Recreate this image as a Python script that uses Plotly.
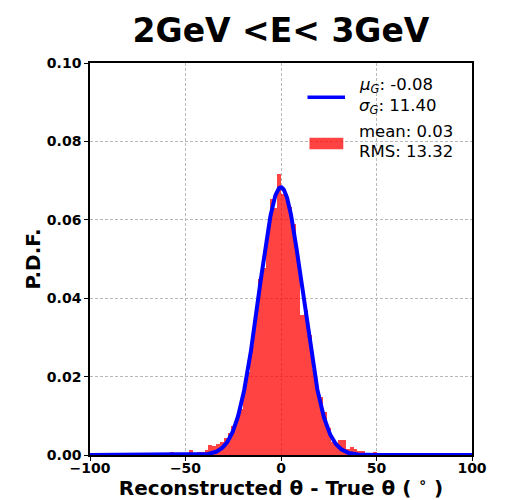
import numpy as np
import plotly.graph_objects as go

# ---- data ----
BIN_WIDTH = 2
bin_left = np.arange(-100, 100, BIN_WIDTH)
pdf_groups = [
    [0] * 10,                                                                        # -100..-80
    [0] * 10,                                                                        # -80..-60
    [0, 0.0007, 0.0002, 0, 0.0002, 0.0002, 0.0012, 0.0003, 0.0007, 0.0007],          # -60..-40
    [0.0013, 0.0025, 0.0024, 0.0027, 0.0032, 0.0044, 0.0055, 0.0075, 0.0095, 0.0117],  # -40..-20
    [0.0175, 0.0212, 0.028, 0.036, 0.045, 0.0476, 0.057, 0.0654, 0.0629, 0.0716],    # -20..0
    [0.0667, 0.0654, 0.0633, 0.059, 0.050, 0.0357, 0.037, 0.0306, 0.022, 0.017],     # 0..20
    [0.0149, 0.011, 0.0068, 0.0034, 0.003, 0.0038, 0.0038, 0.0015, 0.002, 0.0015],   # 20..40
    [0.0009, 0.0009, 0.0002, 0.0002, 0.0007, 0.0001, 0, 0, 0, 0],                    # 40..60
    [0] * 10,                                                                        # 60..80
    [0] * 10,                                                                        # 80..100
]
pdf_values = [v for grp in pdf_groups for v in grp]

MU_G = -0.08
SIGMA_G = 11.40
AMP_G = 0.0683
MEAN = 0.03
RMS = 13.32

x_ticks = [-100, -50, 0, 50, 100]
y_ticks = [0.00, 0.02, 0.04, 0.06, 0.08, 0.10]

# ---- figure ----
centers = bin_left + BIN_WIDTH / 2
xf = np.linspace(-100, 100, 1001)
yf = AMP_G * np.exp(-(xf - MU_G) ** 2 / (2 * SIGMA_G ** 2))

fig = go.Figure()
fig.add_trace(go.Bar(x=centers, y=pdf_values, width=BIN_WIDTH,
                     marker=dict(color='rgba(255,0,0,0.74)', line=dict(width=0)),
                     showlegend=False, hoverinfo='skip'))
fig.add_trace(go.Scatter(x=xf, y=yf, mode='lines',
                         line=dict(color='#0000ff', width=4),
                         showlegend=False, hoverinfo='skip'))

W, H = 506, 500
L, R, T, B = 90, 34, 63, 45
pw, ph = W - L - R, H - T - B

def px2paper(px, py):
    return (px - L) / pw, (H - B - py) / ph

FONT = 'DejaVu Sans'
axis_common = dict(showline=True, linecolor='black', linewidth=1.6, mirror=True,
                   ticks='outside', ticklen=4, tickwidth=1.4, tickcolor='black',
                   showgrid=True, gridcolor='#b8b8b8', griddash='3px,2px', gridwidth=1,
                   zeroline=False, automargin=False,
                   tickfont=dict(family=FONT, size=14, color='black', weight='bold'))

fig.update_layout(
    width=W, height=H,
    margin=dict(l=L, r=R, t=T, b=B),
    paper_bgcolor='white', plot_bgcolor='white',
    bargap=0,
    title=dict(text='2GeV <E< 3GeV', x=(L + pw / 2) / W, xanchor='center',
               y=1 - 30 / H, yanchor='middle', yref='container',
               font=dict(family=FONT, size=33, color='black', weight='bold')),
    xaxis=dict(range=[-100, 100], tickvals=x_ticks, ticklabelstandoff=-5,
               title=dict(text='Reconstructed θ - True θ ( <sup>∘</sup> )', standoff=4,
                          font=dict(family=FONT, size=20, color='black', weight='bold')),
               **axis_common),
    yaxis=dict(range=[0, 0.10], tickvals=y_ticks, tickformat='.2f',
               title=dict(text='P.D.F.', standoff=1,
                          font=dict(family=FONT, size=20, color='black', weight='bold')),
               **axis_common),
)

# legend drawn manually
lx0, ly = px2paper(307.5, 97.3)
lx1, _ = px2paper(345, 97.3)
fig.add_shape(type='line', xref='paper', yref='paper', x0=lx0, x1=lx1, y0=ly, y1=ly,
              line=dict(color='#0000ff', width=3.5))
rx0, ry0 = px2paper(309.5, 149.3)
rx1, ry1 = px2paper(343.3, 137.7)
fig.add_shape(type='rect', xref='paper', yref='paper', x0=rx0, x1=rx1, y0=ry0, y1=ry1,
              fillcolor='rgba(255,0,0,0.74)', line=dict(width=0))

legend_lines = [
    (85.5, '<i>μ</i><sub><i>G</i></sub>: %.2f' % MU_G),
    (106.0, '<i>σ</i><sub><i>G</i></sub>: %.2f' % SIGMA_G),
    (131.5, 'mean: %.2f' % MEAN),
    (151.5, 'RMS: %.2f' % RMS),
]
for py, txt in legend_lines:
    ax_, ay_ = px2paper(356.5, py)
    fig.add_annotation(x=ax_, y=ay_, xref='paper', yref='paper', text=txt,
                       showarrow=False, xanchor='left', yanchor='middle',
                       font=dict(family=FONT, size=16.5, color='black'))

fig.write_html('out.html')
